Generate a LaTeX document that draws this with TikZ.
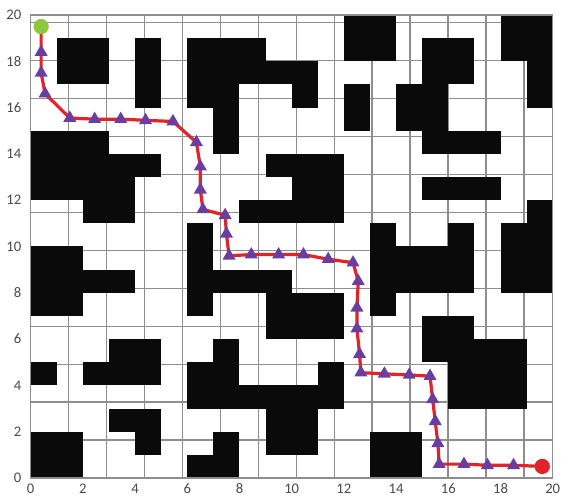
\documentclass[tikz,border=0pt]{standalone}
\usepackage{fontspec}
\setmainfont{Carlito}
\usetikzlibrary{shapes.geometric}

\definecolor{gridgray}{HTML}{8E8E8E}
\definecolor{pathred}{HTML}{E0242A}
\definecolor{markpurple}{HTML}{6A3EA1}
\definecolor{startgreen}{HTML}{8DC63F}
\definecolor{labelgray}{HTML}{4A4A4A}

\begin{document}
\begin{tikzpicture}[x=19.575pt,y=17.3625pt,
  lbl/.style={text=labelgray,font=\fontsize{11}{13}\selectfont,inner sep=1pt},
  tri/.style={regular polygon,regular polygon sides=3,fill=markpurple,inner sep=0pt,minimum size=11.3pt},
  dot/.style={circle,inner sep=0pt,minimum size=11.5pt}]
  \useasboundingbox (-1.176,-1.08) rectangle (20.395,20.648);
  % grid
  \draw[gridgray,line width=1pt] (0,0) grid (20,20);
  % obstacles, row by row
  \foreach \r/\cols in {19/{12,13,18,19}, 18/{1,2,4,6,7,8,12,13,15,16,18,19},
      17/{1,2,4,6,7,8,9,10,15,16,19}, 16/{4,6,7,10,12,14,15,19}, 15/{7,12,14,15},
      14/{0,1,2,7,15,16,17}, 13/{0,1,2,3,4,9,10,11}, 12/{0,1,2,3,10,11,15,16,17},
      11/{2,3,8,9,10,11,19}, 10/{6,13,16,18,19}, 9/{0,1,6,13,14,15,16,18,19},
      8/{0,1,2,3,6,7,8,9,13,14,15,16,18,19}, 7/{0,1,6,9,10,11,13}, 6/{9,10,11,15,16},
      5/{3,4,7,15,16,17,18}, 4/{0,2,3,4,6,7,11,16,17,18}, 3/{6,7,8,9,10,11,16,17,18},
      2/{3,4,9,10}, 1/{0,1,4,7,9,10,13,14}, 0/{0,1,6,7,13,14}}{
    \foreach \c in \cols {\fill[black!96] (\c,\r) rectangle ++(1,1);}
  }
  \draw[gridgray,line width=1pt] (0,0) rectangle (20,20);
  % axis numbers
  \foreach \v in {0,2,...,20}{
    \node[lbl,anchor=north] (xl\v) at (\v,-0.18) {\v};
    \node[lbl,anchor=east] (yl\v) at (-0.3,\v) {\v};
  }
  % path
  \coordinate (start) at (0.4,19.5);
  \coordinate (goal) at (19.6,0.5);
  \foreach \x/\y [count=\i] in {0.4/18.4, 0.4/17.5, 0.55/16.6, 1.5/15.55, 2.45/15.5,
      3.45/15.5, 4.4/15.45, 5.45/15.4, 6.35/14.5, 6.5/13.45, 6.5/12.45, 6.6/11.6,
      7.45/11.35, 7.5/10.55, 7.6/9.6, 8.45/9.65, 9.5/9.65, 10.45/9.65, 11.4/9.45,
      12.35/9.3, 12.55/8.5, 12.5/7.35, 12.5/6.45, 12.6/5.35, 12.65/4.55, 13.55/4.5,
      14.5/4.45, 15.3/4.4, 15.4/3.4, 15.5/2.45, 15.6/1.5, 15.65/0.6, 16.6/0.6,
      17.5/0.55, 18.5/0.55}{
    \coordinate (p\i) at (\x,\y);
  }
  \draw[pathred,line width=2.4pt,line join=round] (start)
    \foreach \i in {1,...,35}{ -- (p\i)} -- (goal);
  \foreach \i in {1,...,35}{\node[tri] (m\i) at (p\i) {};}
  \node[dot,fill=startgreen] (s) at (start) {};
  \node[dot,fill=pathred] (g) at (goal) {};
\end{tikzpicture}
\end{document}
